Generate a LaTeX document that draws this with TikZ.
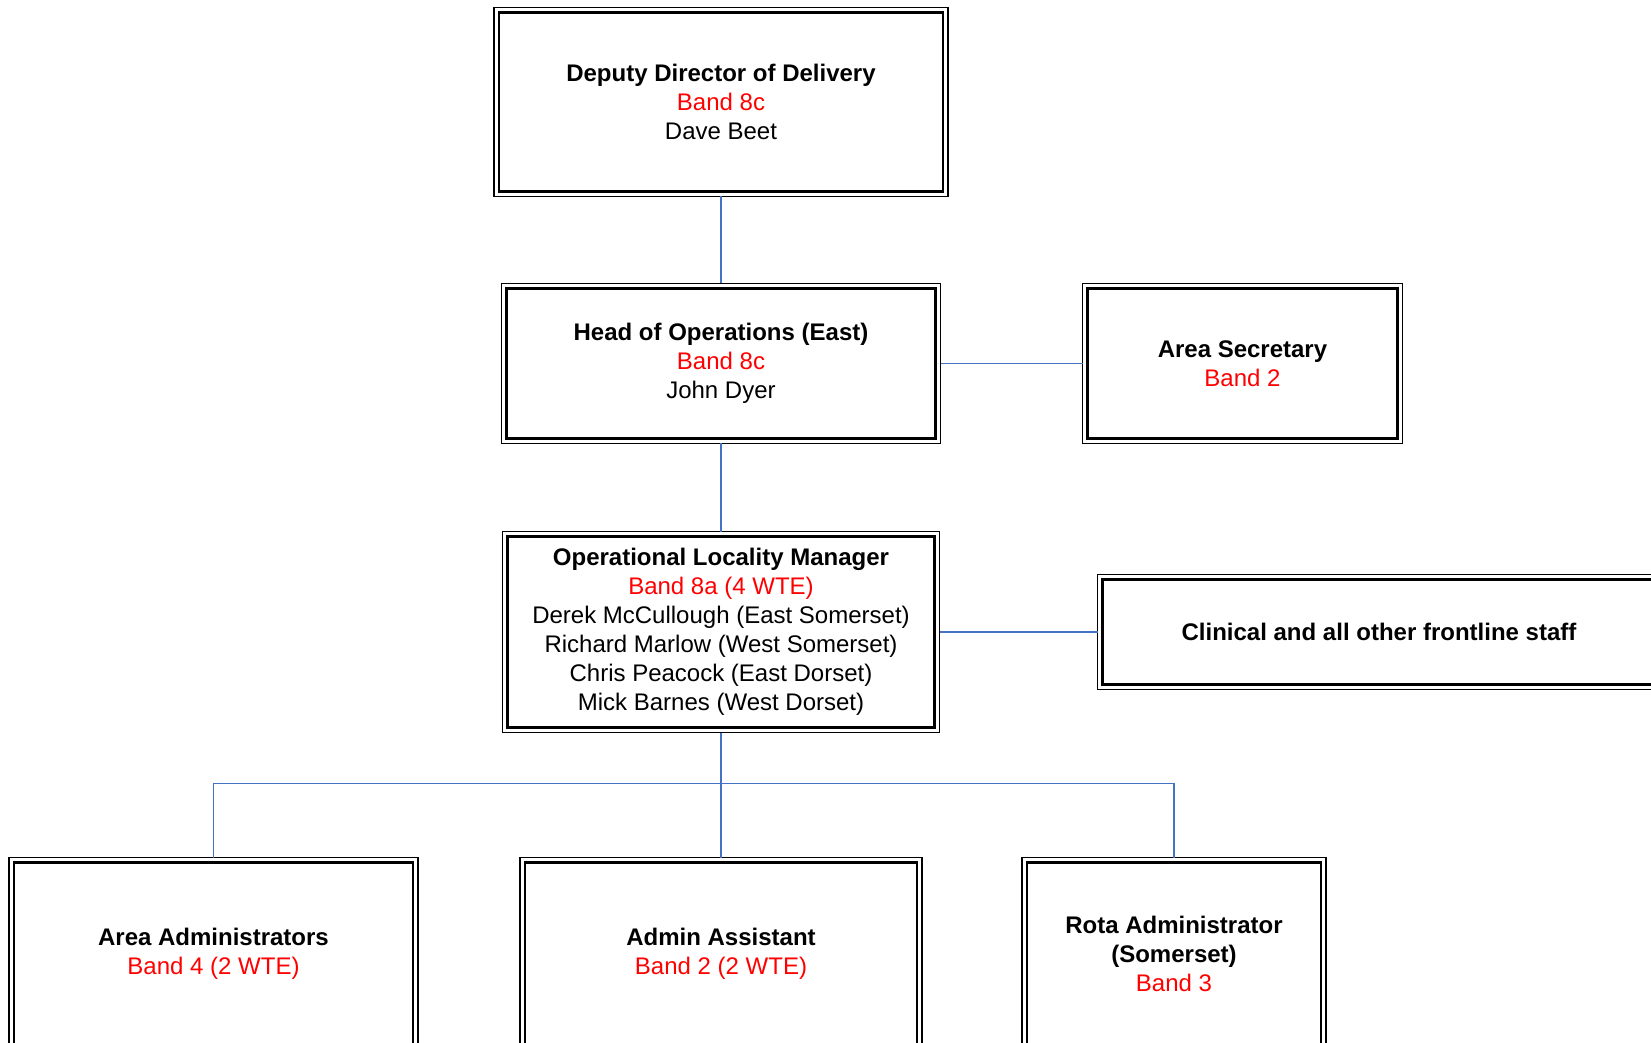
\documentclass[tikz,border=0pt]{standalone}
\usepackage{fontspec}
\setmainfont{Liberation Sans}
\usetikzlibrary{positioning}
\definecolor{bandred}{RGB}{255,0,0}
\definecolor{linkblue}{RGB}{68,114,196}
\newcommand{\band}[1]{\textcolor{bandred}{#1}}

\begin{document}
\begin{tikzpicture}[
		x=0.5pt, y=-0.5pt,
		line width=1.1pt,
		node distance=44pt,
		post/.style={draw, line width=1.1pt, outer sep=2.5pt, align=center, font=\fontsize{12}{14.5}\selectfont, minimum height=75pt},
		link/.style={draw=linkblue, line width=0.8pt},
	]
		\useasboundingbox (0,0) rectangle (1651,1043);

		\node (dd) [post, minimum width=222pt, minimum height=89.5pt] at (721,102) {\textbf{Deputy Director of Delivery}\\\band{Band 8c}\\Dave Beet};
		\node (hoo) [post, below=43.5pt of dd, minimum width=214.5pt] {\textbf{Head of Operations (East)}\\\band{Band 8c}\\John Dyer};
		\node (sec) [post, right=71pt of hoo, minimum width=155pt] {\textbf{Area Secretary}\\\band{Band 2}};
		\node (olm) [post, below=44pt of hoo, minimum width=213.5pt, minimum height=95.5pt] {\textbf{Operational Locality Manager}\\\band{Band 8a (4 WTE)}\\Derek McCullough (East Somerset)\\Richard Marlow (West Somerset)\\Chris Peacock (East Dorset)\\Mick Barnes (West Dorset)};
		\node (clin) [post, right=79pt of olm, minimum width=276.5pt, minimum height=52.5pt] {\textbf{Clinical and all other frontline staff}};
		\node (ass) [post, below=62.5pt of olm, minimum width=196pt, minimum height=91.5pt] {\textbf{Admin Assistant}\\\band{Band 2 (2 WTE)}};
		\node (aa) [post, left=51pt of ass, minimum width=199.5pt, minimum height=91.5pt] {\textbf{Area Administrators}\\\band{Band 4 (2 WTE)}};
		\node (rota) [post, right=50pt of ass, minimum width=147pt, minimum height=91.5pt] {\textbf{Rota Administrator}\\\textbf{(Somerset)}\\\band{Band 3}};

		% thin outer frame of each box
		\foreach \n in {dd,hoo,sec,olm,clin,aa,ass,rota}
			\draw[line width=0.7pt] (\n.north west) rectangle (\n.south east);

		\coordinate (bus) at ([yshift=-25.5pt]olm.south);

		\draw[link] (dd) -- (hoo);
		\draw[link] (hoo) -- (sec);
		\draw[link] (hoo) -- (olm);
		\draw[link] (olm) -- (clin);
		\draw[link] (olm) -- (ass);
		\draw[link] (aa.north) |- (bus) -| (rota.north);
	\end{tikzpicture}
\end{document}
